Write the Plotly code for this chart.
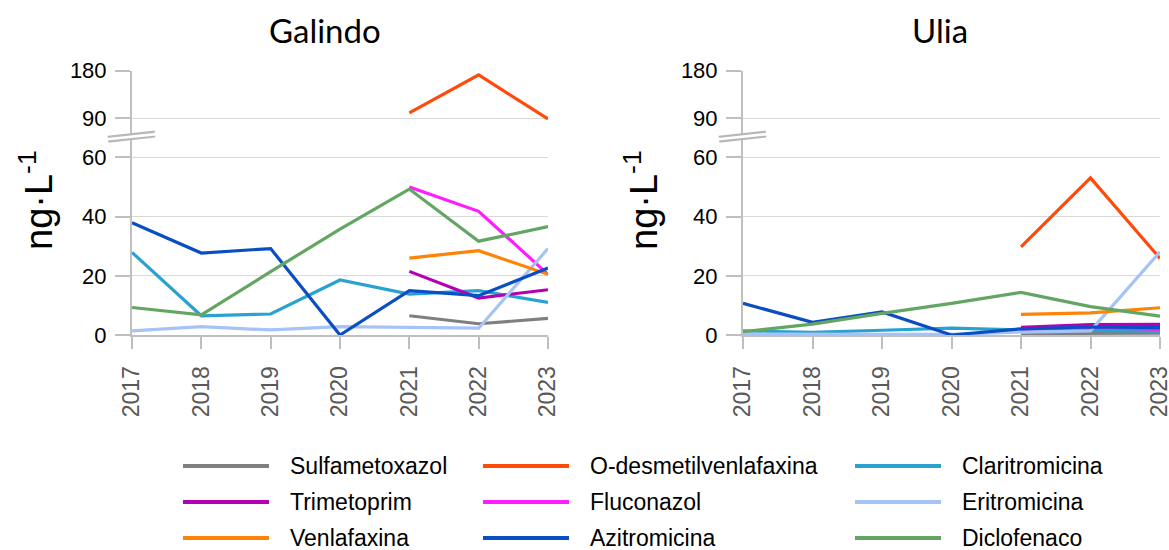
import plotly.graph_objects as go

W, H = 1169, 550

years = [2017, 2018, 2019, 2020, 2021, 2022, 2023]
sites = ["Galindo", "Ulia"]
compounds = ["Sulfametoxazol", "O-desmetilvenlafaxina", "Claritromicina",
             "Trimetoprim", "Fluconazol", "Eritromicina",
             "Venlafaxina", "Azitromicina", "Diclofenaco"]
colors = ["#7f7f7f", "#ff4a0a", "#2aa2d0",
          "#b400b4", "#ff1cff", "#a6c3f7",
          "#ff8307", "#0a4ec4", "#63a563"]

galindo = {
    "Sulfametoxazol":        [None, None, None, None, 6.5, 3.8, 5.6],
    "O-desmetilvenlafaxina": [None, None, None, None, 100.5, 172.0, 89.0],
    "Claritromicina":        [27.9, 6.5, 7.1, 18.6, 13.8, 15.0, 11.0],
    "Trimetoprim":           [None, None, None, None, 21.5, 12.5, 15.3],
    "Fluconazol":            [None, None, None, None, 50.0, 41.8, 20.5],
    "Eritromicina":          [1.4, 2.8, 1.7, 2.8, 2.6, 2.3, 29.2],
    "Venlafaxina":           [None, None, None, None, 26.0, 28.5, 20.5],
    "Azitromicina":          [37.9, 27.7, 29.2, 0.0, 15.0, 13.3, 22.6],
    "Diclofenaco":           [9.3, 6.8, 21.4, 35.8, 49.3, 31.7, 36.6],
}
ulia = {
    "Sulfametoxazol":        [None, None, None, None, 0.5, 0.5, 0.6],
    "O-desmetilvenlafaxina": [None, None, None, None, 29.8, 53.1, 25.9],
    "Claritromicina":        [1.4, 0.9, 1.6, 2.3, 1.7, 1.5, 1.3],
    "Trimetoprim":           [None, None, None, None, 2.6, 3.5, 3.6],
    "Fluconazol":            [None, None, None, None, 1.9, 2.6, 1.9],
    "Eritromicina":          [0.3, 0.2, 0.3, 0.2, 1.0, 1.4, 28.1],
    "Venlafaxina":           [None, None, None, None, 7.0, 7.5, 9.2],
    "Azitromicina":          [10.7, 4.3, 7.8, 0.0, 2.1, 2.7, 2.5],
    "Diclofenaco":           [1.1, 3.7, 7.3, 10.7, 14.4, 9.6, 6.4],
}
site_data = [galindo, ulia]

lower_ticks = [0, 20, 40, 60]
upper_ticks = [90, 180]
lower_range = [0, 67]
upper_range = [55.4, 180]

# layout geometry (pixels)
plot_x = [(132, 548), (743, 1160)]
y_zero, y_break, y_top = 335, 136.7, 70.7

def px(x):
    return x / W

def py(y):
    return 1 - y / H

fig = go.Figure()
axis_font = dict(family="Liberation Sans, Arial, sans-serif", size=22, color="#000000")
grid_c = "#d9d9d9"
line_c = "#bfbfbf"

# broken axis: a series goes on the upper axis when it exceeds the lower range
for s, data in enumerate(site_data):
    xa = "x" if s == 0 else "x2"
    ylow = "y" if s == 0 else "y3"
    yup = "y2" if s == 0 else "y4"
    used_upper = False
    for name, col in zip(compounds, colors):
        vals = data[name]
        vmax = max(v for v in vals if v is not None)
        ya = yup if vmax > lower_range[1] else ylow
        used_upper = used_upper or ya == yup
        fig.add_trace(go.Scatter(
            x=years, y=vals, mode="lines", name=name,
            line=dict(color=col, width=3.2),
            xaxis=xa, yaxis=ya, showlegend=False, connectgaps=False,
            hoverinfo="x+y+name"))
    if not used_upper:
        # empty placeholder so the upper axis segment is still drawn
        fig.add_trace(go.Scatter(x=[None], y=[None], mode="lines", xaxis=xa, yaxis=yup,
                                 showlegend=False, hoverinfo="skip"))

lay = {}
for s in range(2):
    xk = "xaxis" if s == 0 else "xaxis2"
    ylk = "yaxis" if s == 0 else "yaxis3"
    yuk = "yaxis2" if s == 0 else "yaxis4"
    xname = "x" if s == 0 else "x2"
    x0, x1 = plot_x[s]
    lay[xk] = dict(domain=[px(x0), px(x1)], anchor=("y" if s == 0 else "y3"),
                   range=[years[0], years[-1]],
                   tickvals=years, ticktext=[str(y) for y in years], tickangle=-90,
                   showgrid=False, zeroline=False, showline=True, linecolor=line_c, linewidth=2,
                   ticks="outside", ticklen=12, tickwidth=2, tickcolor=line_c,
                   ticklabelstandoff=8, ticklabeloverflow="allow",
                   tickfont=dict(family="Liberation Sans, Arial, sans-serif", size=23, color="#595959"),
                   automargin=False, fixedrange=True)
    lay[ylk] = dict(domain=[py(y_zero), py(y_break)], anchor=xname, range=lower_range,
                    tickvals=lower_ticks, showgrid=True, gridcolor=grid_c, gridwidth=1,
                    zeroline=False, showline=True, linecolor=line_c, linewidth=2,
                    ticks="outside", ticklen=15, tickwidth=1.5, tickcolor=line_c,
                    ticklabelstandoff=4,
                    tickfont=axis_font, automargin=False, fixedrange=True)
    lay[yuk] = dict(domain=[py(y_break), py(y_top)], anchor=xname, range=upper_range,
                    tickvals=upper_ticks, showgrid=True, gridcolor=grid_c, gridwidth=1,
                    zeroline=False, showline=True, linecolor=line_c, linewidth=2,
                    ticks="outside", ticklen=15, tickwidth=1.5, tickcolor=line_c,
                    ticklabelstandoff=4,
                    tickfont=axis_font, automargin=False, fixedrange=True)

shapes = []
annotations = []
title_cx = [325, 940]
ytitle_cx = [36, 641]
for s in range(2):
    ax_x = plot_x[s][0]
    # axis-break marks
    shapes.append(dict(type="line", xref="paper", yref="paper",
                       x0=px(ax_x - 24), y0=py(y_break + 2.6), x1=px(ax_x + 23), y1=py(y_break - 2.6),
                       line=dict(color="#b8b8b8", width=7), layer="above"))
    shapes.append(dict(type="line", xref="paper", yref="paper",
                       x0=px(ax_x - 25), y0=py(y_break + 2.6), x1=px(ax_x + 24), y1=py(y_break - 2.6),
                       line=dict(color="#ffffff", width=2.6), layer="above"))
    annotations.append(dict(text=sites[s], xref="paper", yref="paper",
                            x=px(title_cx[s]), y=py(30), xanchor="center", yanchor="middle",
                            showarrow=False,
                            font=dict(family="Lato, Noto Sans, sans-serif", size=33, color="#000000")))
    annotations.append(dict(text="ng·L<sup>-1</sup>", xref="paper", yref="paper",
                            x=px(ytitle_cx[s]), y=py(200), xanchor="center", yanchor="middle",
                            textangle=-90, showarrow=False,
                            font=dict(family="Liberation Sans, Arial, sans-serif", size=38, color="#000000")))

# legend (3 columns, row-wise order)
leg_col_x = [183, 483, 855]
leg_row_y = [466, 502, 538]
swatch_len = 86
text_gap = 105
for i, (name, col) in enumerate(zip(compounds, colors)):
    r, c = divmod(i, 3)
    x0 = leg_col_x[c]
    yy = leg_row_y[r]
    shapes.append(dict(type="line", xref="paper", yref="paper",
                       x0=px(x0), y0=py(yy), x1=px(x0 + swatch_len), y1=py(yy),
                       line=dict(color=col, width=4)))
    annotations.append(dict(text=name, xref="paper", yref="paper",
                            x=px(x0 + text_gap), y=py(yy), xanchor="left", yanchor="middle",
                            showarrow=False,
                            font=dict(family="Liberation Sans Narrow, Liberation Sans, Arial, sans-serif",
                                      size=23, color="#000000")))

fig.update_layout(width=W, height=H, margin=dict(l=0, r=0, t=0, b=0),
                  paper_bgcolor="white", plot_bgcolor="white",
                  shapes=shapes, annotations=annotations, showlegend=False, **lay)

fig.write_html("out.html", config={"displayModeBar": False},
               post_script="document.body.style.margin='0';document.body.style.overflow='hidden';")
